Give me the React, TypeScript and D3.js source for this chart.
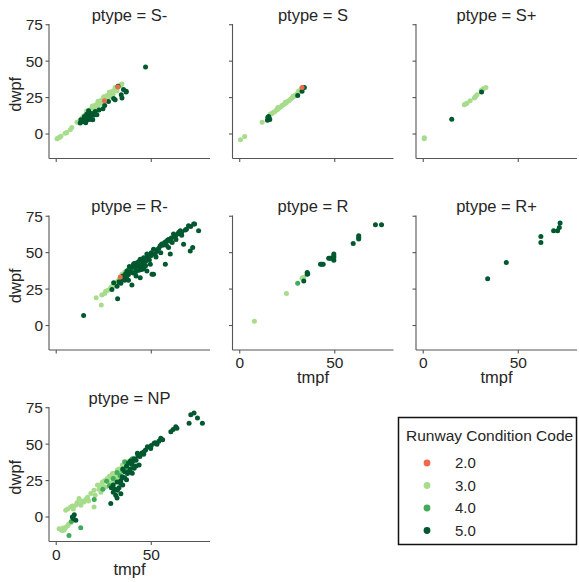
import React from "react";
import * as d3 from "d3";

type P = [number, number, number];

const panelTitles = ["S-", "S", "S+", "R-", "R", "R+", "NP"];
const codes = [2.0, 3.0, 4.0, 5.0];
const codeLabels = ["2.0", "3.0", "4.0", "5.0"];
const codeColors = ["#ef6a4c", "#a6dc8b", "#3fab5b", "#00582f"];
const xTicks = [0, 50];
const yTicks = [0, 25, 50, 75];

const dataSminus: P[] = [
  [0.4,-3.3,3],[1,-2.8,3],[1.8,-2.2,3],[2.5,-1.5,3],[4.7,0.6,3],[5.5,1,3],[7.4,2.9,3],[8.2,4.5,3],[10.9,8.1,3],[12.5,9.5,3],[13.5,11,3],[14.5,12.5,3],[15.5,13,3],[16,14.5,3],[17,15,3],[17.5,16.5,3],[18.5,17,3],[19,18,3],[20,18.5,3],[20.5,19.8,3],[21.5,20.5,3],[22,21.5,3],[23,22,3],[23.5,23,3],[24.5,23.5,3],[25,24.8,3],[26,25,3],[26.5,26.2,3],[27.5,26.8,3],[28,27.8,3],[29,28.2,3],[29.5,29.2,3],[30.5,29.8,3],[31,31,3],[32,31.2,3],[32.5,32.5,3],[33.5,33,3],[34,33.8,3],[34.6,34.3,3],
  [18,14.8,3],[20,16.8,3],[22,19,3],[24,21,3],[26,23.5,3],[28,25.5,3],[30,27.5,3],[32,29.5,3],[16,15.8,3],[19,19.2,3],[22,22.5,3],[25,25.5,3],[28,28.8,3],[31,32,3],
  [47,46,5],[35.4,30.5,5],[36.8,29.3,5],[34.6,24.7,5],[31,23.6,5],[32.5,32.8,5],[27.5,22.4,5],[24.6,17.4,5],[21.4,13.2,5],[19.6,12.8,5],[20.5,15.5,5],[12.6,7.5,5],[13.5,8.5,5],[14.4,8.6,5],[15,10,5],[15.5,7.8,5],[16,9.5,5],[16.8,11,5],[17.5,10,5],[18,12.5,5],[18.5,14,5],[19.2,9.8,5],[13,9.8,5],[14.8,12,5],[17,16,5],[16,13.5,5],[30.2,24.3,5],[36.8,28.8,5],[25.5,19.5,5],[22.5,16.5,5],[34.2,27,5],
  [32.4,32.3,2],[25.4,22.9,2],
];

const dataS: P[] = [
  [0.4,-4,3],[2.6,-1.7,3],[11.8,8.1,3],[16.2,13.7,3],[17,14,3],[17.8,15,3],[18.5,15.5,3],[19.3,16.5,3],[20,17,3],[20.8,18,3],[21.5,18.5,3],[22.3,19.5,3],[23,20,3],[23.8,21,3],[24.5,21.5,3],[25.3,22.5,3],[26,23,3],[26.8,24,3],[27.5,24.8,3],[28.3,25.5,3],[29,26.5,3],[29.8,27.2,3],[30.5,28,3],[31.3,29,3],[32,30,3],[32.5,31,3],[33,31.5,3],[20,18.2,3],[24,21.8,3],[28,26,3],[31,29.5,3],
  [14.6,9.5,5],[15,10.5,5],[15.5,11,5],[15.8,10,5],[15.2,12,5],[14.8,11.5,5],[34,32,5],[32.8,29.3,5],[30.5,26.5,5],
  [32.8,32,2],
];

const dataSplus: P[] = [
  [0.5,-3.3,3],[0.6,-2.5,3],[21.6,20.1,3],[22.2,20.6,3],[23,21.2,3],[24.7,22.8,3],[26.9,24.7,3],[27.5,25.8,3],[28.3,27,3],[30.4,29.8,3],[31.2,30.5,3],[31.8,31.2,3],[33,32,3],
  [15,10.2,5],[30.7,28.8,5],
];

const dataRminus: P[] = [
  [21,19,3],[23.7,14,3],[24,20.9,3],[25.5,22,3],[27,24,3],[28.5,25.5,3],[30,27,3],[31,28.5,3],[32,30,3],[33,31.5,3],[34.6,35.2,3],[35.5,35,3],[36,36.5,3],[37,37,3],[26,23.5,3],[29,26.5,3],
  [38,38.5,4],[39,39.5,4],[39.8,39.7,4],[40.5,41,4],[37.5,36,4],[41,38.5,4],[36.5,33.5,4],
  [14.4,6.9,5],[32.3,18.4,5],[29.3,24.8,5],[30.2,29.4,5],[32,27,5],[33,30,5],[34,29,5],[35,31.5,5],[36,33,5],[37.2,37.4,5],[38,35,5],[39,37,5],[39.8,27.8,5],[40.7,42,5],[41.5,40,5],[42,37,5],[42.5,43,5],[43,41,5],[43.5,38,5],[44.2,45.5,5],[44.2,32.8,5],[45,44,5],[45.5,41.5,5],[46,39,5],[46.5,46,5],[47,44,5],[47.7,49,5],[47.7,37.4,5],[48.5,47,5],[49,45,5],[49.5,42,5],[50.4,35.2,5],[50,50,5],[51.2,52.4,5],[51.2,35.2,5],[52,49,5],[52.5,47,5],[53,51,5],[54,53,5],[54.7,54.7,5],[55,50,5],[56,55,5],[57,57,5],[57.4,42,5],[58.2,58.1,5],[59.1,53.5,5],[59,59,5],[60,49,5],[60.5,60,5],[61,57,5],[61.7,62.8,5],[62.5,61,5],[63,59,5],[64,63,5],[65.3,65,5],[66,62,5],[67,55.8,5],[67.9,65.5,5],[68.5,66,5],[69.6,68.5,5],[70.5,51.2,5],[70.7,68,5],[71.8,53.5,5],[72.3,69.6,5],[72.8,69.6,5],[74.9,65,5],[38.5,40.5,5],[40,40,5],[41,42.5,5],[43.5,44,5],[46,46.5,5],[48,48,5],[50,48,5],[53,52,5],[55.5,56,5],[58,55,5],[60,58,5],[63,62,5],[64.5,64,5],[66,64,5],[36,31,5],[37,33.5,5],[38,31,5],[40.5,36,5],[42,34,5],[45,38.5,5],[47,41,5],[44,41,5],[35,34,5],[36.5,35.5,5],
  [33.7,33.3,2],
];

const dataR: P[] = [
  [7.7,3,3],[24.6,22,3],[32.8,32.4,3],[33.7,33,3],[33.2,32.8,3],
  [30.5,29,4],
  [33.7,30.5,5],[35.5,36.3,5],[35.5,35.1,5],[35.8,35.6,5],[42.5,42,5],[43.2,42,5],[43.9,42,5],[46.8,46.2,5],[47.4,46.2,5],[48,46.2,5],[49.5,49,5],[49.5,47.8,5],[49.5,46.7,5],[49.5,44.8,5],[59.7,56.3,5],[62.6,61.6,5],[62.6,60.4,5],[62.6,59.3,5],[71.4,69.2,5],[74.6,69.2,5],
];

const dataRplus: P[] = [
  [33.9,32.1,5],[43.7,43.2,5],[61.9,61.1,5],[61.9,57,5],[68.6,65,5],[70.7,65,5],[71.6,67.3,5],[72,70.3,5],
];

const dataNP: P[] = [
  [1.5,-8,3],[2.5,-8.5,3],[3.5,-7.5,3],[4.5,-8,3],[5,-7,3],[6,-6,3],[6.5,-5,3],[7.5,-4,3],[4,-9,3],[3,-9.3,3],
  [5,4.6,3],[6,5.5,3],[7.6,6.9,3],[8.5,7.5,3],[10.3,8,3],[11,10,3],[12,12.7,3],[12.5,9,3],[13.5,11,3],[14.6,10.3,3],[15.5,12,3],[16.5,13.5,3],[17,11,3],[18.2,16.1,3],[19.9,6.9,3],[19.9,18.4,3],[20.5,15,3],[21.7,21.9,3],[22.5,19,3],[23,22,3],[24.3,24.1,3],[25,21,3],[25.5,25,3],[26.9,26.5,3],[27.5,24,3],[28,28,3],[29,27,3],[29.6,29.9,3],[30.5,30,3],[31,28,3],[32.2,32.2,3],[33,33,3],[33.5,31,3],[34.8,35.7,3],[35.5,34,3],[36,36,3],[37.5,37.9,3],[38.5,38,3],[39.2,39.1,3],[23.5,17,3],[26,20.5,3],[28.5,23,3],[30,25,3],[32,26,3],[13,8,3],[9,5.5,3],
  [6.7,-12.6,4],[12.9,-7.3,4],[24.5,19,4],[28,21.5,4],[30,26.5,4],[33.5,28.5,4],[35,32,4],[37,34,4],[38.5,36.5,4],[36,38,4],[40,40,4],[20,12,4],[26.5,24.5,4],[32,30.5,4],[8,-3,4],
  [8.5,0,5],[9.5,1.5,5],[10.3,-2.3,5],[9,-1,5],[28.7,9.2,5],[31.3,15,5],[32.2,18.4,5],[33.9,23,5],[34.8,27.6,5],[37.5,29.9,5],[41,33.4,5],[43.6,35.7,5],[40.5,38.7,5],[42.7,43.7,5],[46.2,44.8,5],[48,48.3,5],[49.7,47,5],[51.5,50.6,5],[55,54,5],[56,53,5],[60.3,58.6,5],[61.5,60,5],[62.9,62,5],[63.5,61,5],[69.9,64.4,5],[70.8,70.1,5],[72.5,71.3,5],[74.3,67.9,5],[76.9,64.4,5],[35,33,5],[36,31,5],[37,35,5],[38,37,5],[39,38.5,5],[40,36,5],[41,40,5],[42,39,5],[43,42,5],[44,41.5,5],[45,44,5],[46,43,5],[47,46,5],[30,22,5],[31,19,5],[32,24,5],[33,20,5],[34,25,5],[35,22,5],[36,27,5],[37,25.5,5],[38,31,5],[39,33,5],[40,30,5],[42,35,5],[34,16,5],[32,13,5],[30,17,5],[29,20,5],[50,49,5],[52,51,5],[53,50,5],[54,52,5],
];

const panelData: P[][] = [dataSminus, dataS, dataSplus, dataRminus, dataR, dataRplus, dataNP];

const FONT = "Liberation Sans, Arial, sans-serif";
const TEXT = "#262626";
const SPINE = "#555";

export default function App() {
  const colLeft = [49, 232.5, 416];
  const rowTop = [24, 215.5, 407];
  const W = 161;
  const H = 134.5;
  const x = d3.scaleLinear().domain([-3.8, 80.9]).range([0, W]);
  const y = d3.scaleLinear().domain([-16.8, 75.5]).range([H, 0]);
  const color = d3.scaleOrdinal<number, string>().domain(codes).range(codeColors);
  const drawOrder = [3, 4, 5, 2];

  return (
    <svg width={579} height={582} style={{ position: "absolute", left: 0, top: 0 }} fontFamily={FONT}>
      <rect width={579} height={582} fill="#fff" />
      {panelTitles.map((t, i) => {
        const r = Math.floor(i / 3);
        const c = i % 3;
        const left = colLeft[c];
        const top = rowTop[r];
        const showX = i >= 4;
        const showY = c === 0;
        const pts = panelData[i];
        return (
          <g key={t} transform={`translate(${left},${top})`}>
            <text x={W / 2} y={-3.5} textAnchor="middle" fontSize={16.5} fill={TEXT}>{`ptype = ${t}`}</text>
            <line x1={0} x2={0} y1={0} y2={H} stroke={SPINE} strokeWidth={1.1} />
            <line x1={0} x2={W} y1={H} y2={H} stroke={SPINE} strokeWidth={1.1} />
            {yTicks.map((v) => (
              <g key={"y" + v} transform={`translate(0,${y(v)})`}>
                <line x1={-3.5} x2={0} stroke={SPINE} strokeWidth={1.1} />
                {showY && (
                  <text x={-6} dy="0.35em" textAnchor="end" fontSize={15.5} fill={TEXT}>{v}</text>
                )}
              </g>
            ))}
            {xTicks.map((v) => (
              <g key={"x" + v} transform={`translate(${x(v)},${H})`}>
                <line y1={0} y2={3.5} stroke={SPINE} strokeWidth={1.1} />
                {showX && (
                  <text y={18} textAnchor="middle" fontSize={15.5} fill={TEXT}>{v}</text>
                )}
              </g>
            ))}
            {showY && (
              <text transform={`translate(-28,${H / 2 + 3}) rotate(-90)`} textAnchor="middle" fontSize={16.5} fill={TEXT}>dwpf</text>
            )}
            {showX && (
              <text x={W / 2} y={H + 33} textAnchor="middle" fontSize={16.5} fill={TEXT}>tmpf</text>
            )}
            {drawOrder.map((code) => (
              <g key={"c" + code}>
                {pts.filter((p) => p[2] === code).map((p, k) => (
                  <circle key={k} cx={x(p[0])} cy={y(p[1])} r={2.5} fill={color(p[2])} />
                ))}
              </g>
            ))}
          </g>
        );
      })}
      <g>
        <rect x={398.5} y={417.5} width={178} height={127} fill="#fff" stroke="#111" strokeWidth={1.5} />
        <text x={406} y={441} fontSize={15.5} fill={TEXT}>Runway Condition Code</text>
        {codes.map((cd, i) => (
          <g key={"l" + cd} transform={`translate(0,${463 + i * 22.5})`}>
            <circle cx={427} cy={0} r={3.4} fill={color(cd)} />
            <text x={455} dy="0.35em" fontSize={15} fill={TEXT}>{codeLabels[i]}</text>
          </g>
        ))}
      </g>
    </svg>
  );
}
